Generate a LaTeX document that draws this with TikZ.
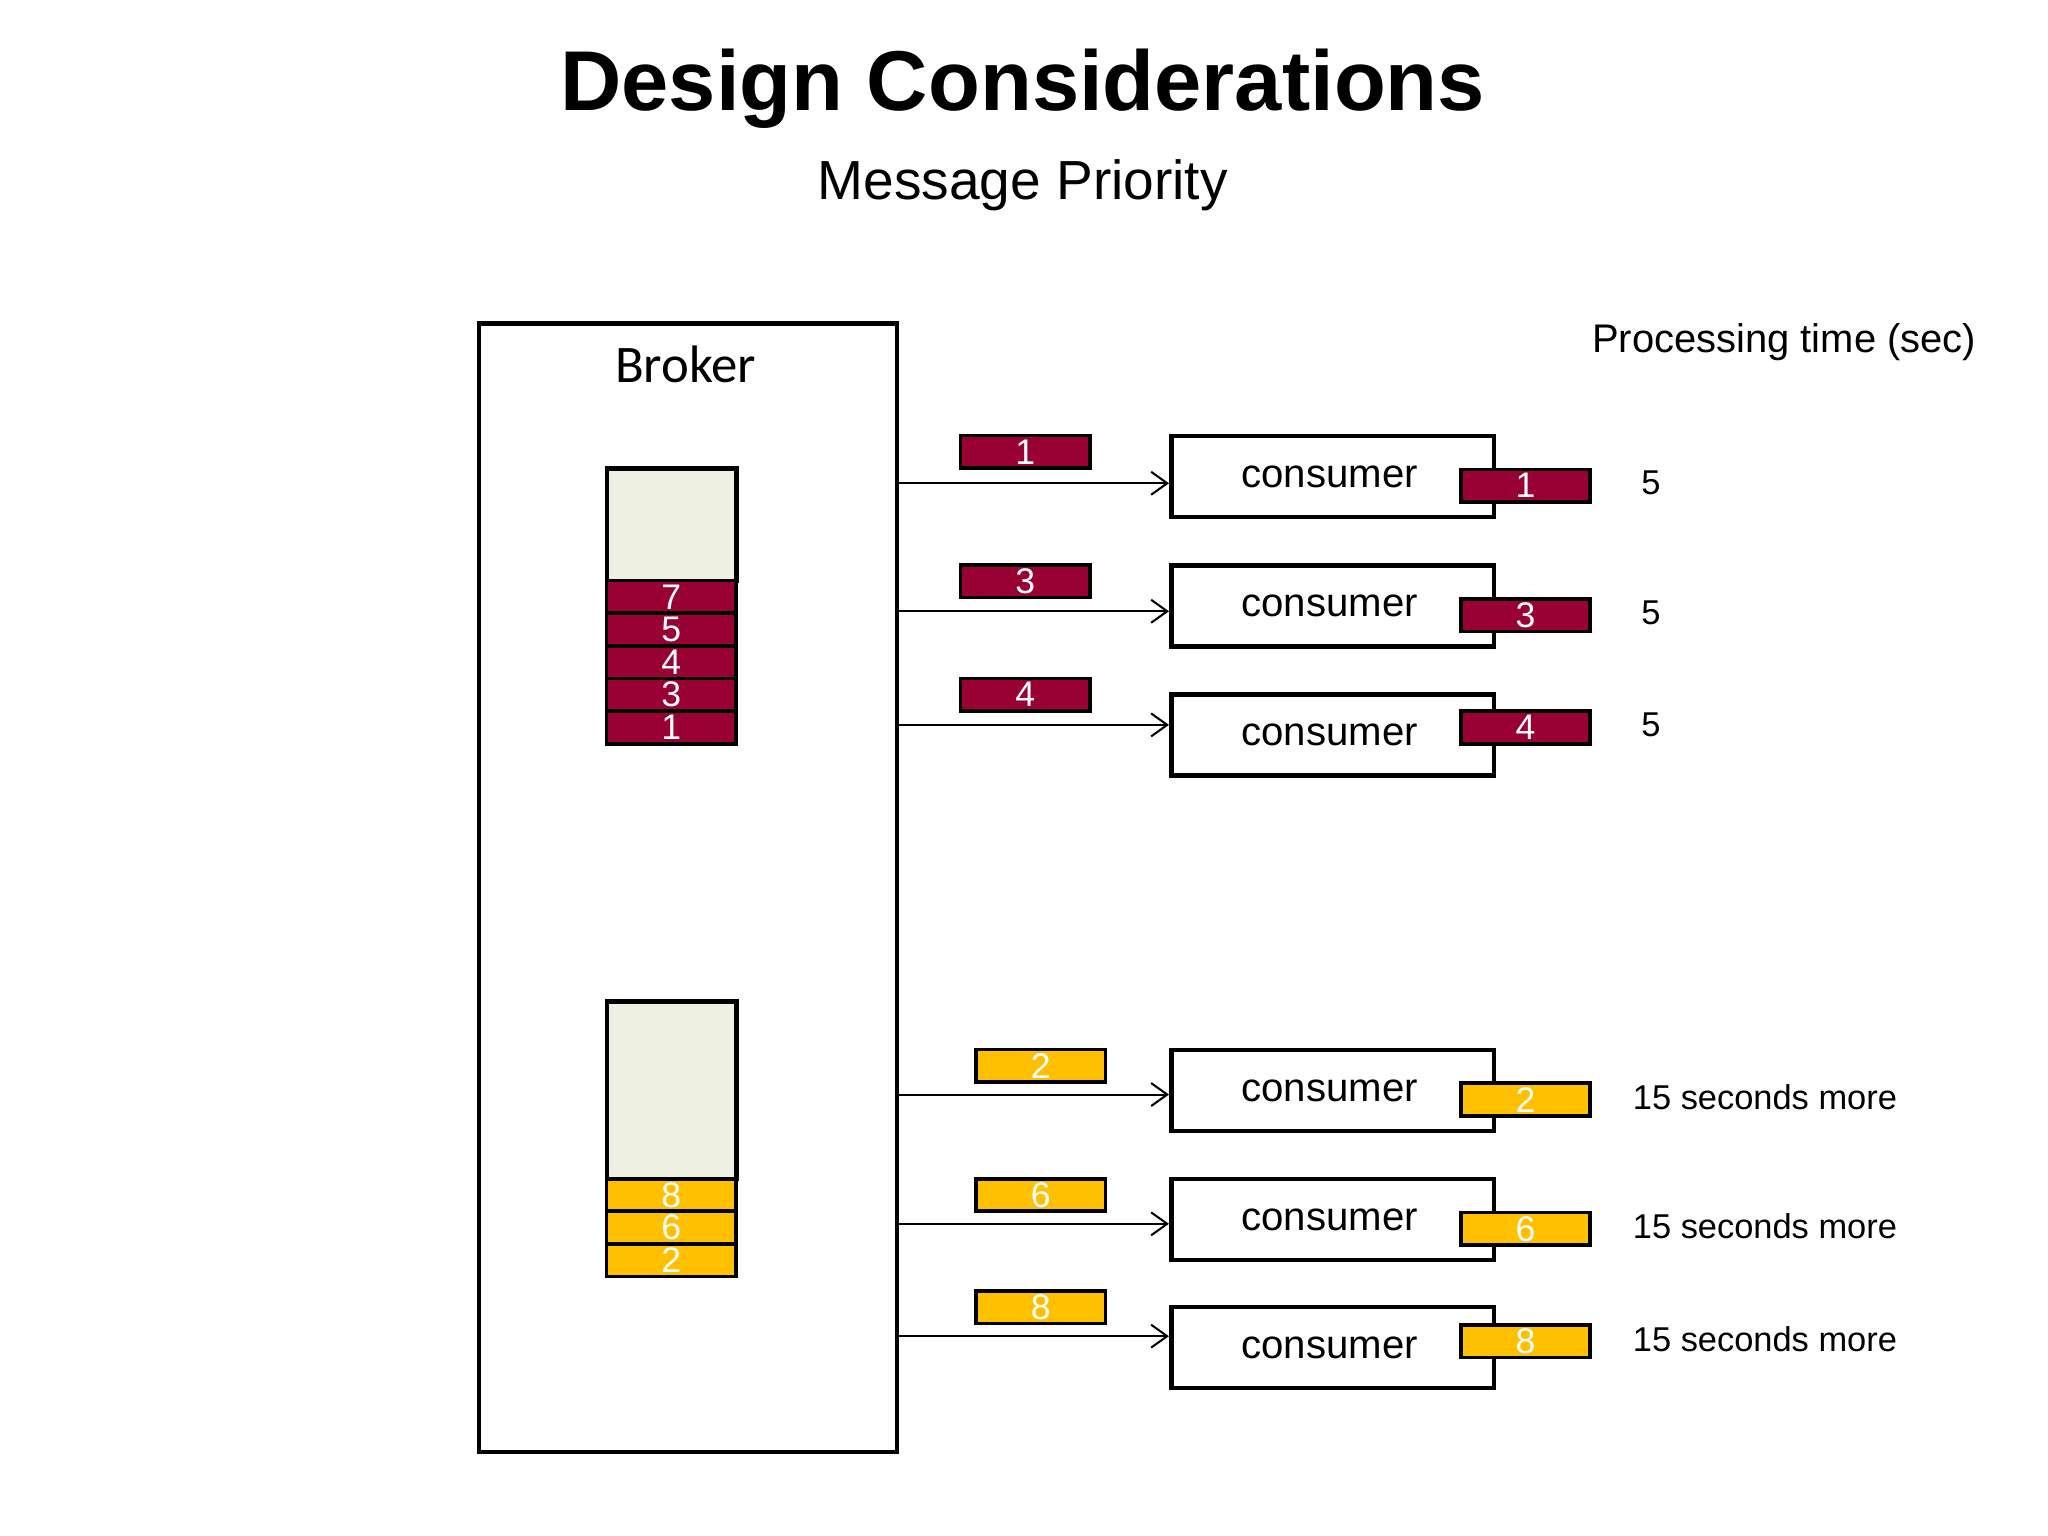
\documentclass[tikz,border=0pt]{standalone}
\usepackage{fontspec}
\setmainfont{Liberation Sans}
\newfontfamily\calib{Carlito}
\usetikzlibrary{arrows.meta}
\definecolor{msgred}{HTML}{990033}
\definecolor{msgyel}{HTML}{FFC000}
\definecolor{qlight}{HTML}{EEF0E2}
\tikzset{
 box/.style={draw, line width=2pt, anchor=north west, inner sep=0pt},
 cell/.style={draw, line width=1.6pt, anchor=north west, inner sep=0pt, minimum width=99*0.02cm, minimum height=25*0.02cm, text=white, font=\fontsize{15.5}{15.5}\selectfont},
 rcell/.style={cell, fill=msgred},
 ycell/.style={cell, fill=msgyel},
 cons/.style={box, minimum width=247*0.02cm, minimum height=62*0.02cm},
 lbl/.style={font=\fontsize{15}{15}\selectfont},
 arr/.style={-{Straight Barb[length=7pt,width=10pt]}, line width=0.9pt}
}
\begin{document}
\begin{tikzpicture}[x=0.02cm,y=-0.02cm]
\useasboundingbox (0,0) rectangle (1568,1176);
\node[font=\fontsize{37}{37}\selectfont\bfseries] (title) at (783,68) {Design Considerations};
\node[font=\fontsize{24}{24}\selectfont] (sub) at (783,142) {Message Priority};
\node[box, minimum width=320*0.02cm, minimum height=864*0.02cm] (broker) at (365,246) {};
\node[font=\calib\fontsize{23}{23}\selectfont] (blabel) at (525,279) {Broker};
\node[font=\fontsize{17.4}{17.4}\selectfont] (pt) at (1366,262) {Processing time (sec)};
% queue 1
\node[box, fill=qlight, minimum width=99*0.02cm, minimum height=86*0.02cm] (q1) at (463,357) {};
\node[rcell] (r7) at (463,443) {7};
\node[rcell] (r5) at (463,468) {5};
\node[rcell] (r4) at (463,493) {4};
\node[rcell] (r3) at (463,518) {3};
\node[rcell] (r1) at (463,543) {1};
% queue 2
\node[box, fill=qlight, minimum width=99*0.02cm, minimum height=136*0.02cm] (q2) at (463,765) {};
\node[ycell] (y8) at (463,901) {8};
\node[ycell] (y6) at (463,926) {6};
\node[ycell] (y2) at (463,951) {2};
% consumers
\foreach \i/\y/\n/\st/\mx/\my/\by/\t/\anc/\lx in {1/332/1/rcell/734/332/358/5/center/1264, 2/431/3/rcell/734/431/457/5/center/1264, 3/530/4/rcell/734/518/543/5/center/1264,
  4/802/2/ycell/746/802/828/15 seconds more/west/1244, 5/901/6/ycell/746/901/927/15 seconds more/west/1244, 6/999/8/ycell/746/987/1013/15 seconds more/west/1244}{
  \node[cons] (c\i) at (895,\y) {};
  \node[font=\fontsize{17.5}{17.5}\selectfont] (ct\i) at (1018,\y+33) {consumer};
  \node[\st] (m\i) at (\mx,\my) {\n};
  \node[\st] (b\i) at (1117,\by) {\n};
  \node[lbl, anchor=\anc] (t\i) at (\lx,\by+12) {\t};
}
\foreach \i/\y in {1/370,2/468,3/555,4/838,5/937,6/1023}{
  \coordinate (s\i) at (686,\y);
  \draw[arr] (s\i) -- (c\i.west |- s\i);
}
\end{tikzpicture}
\end{document}
